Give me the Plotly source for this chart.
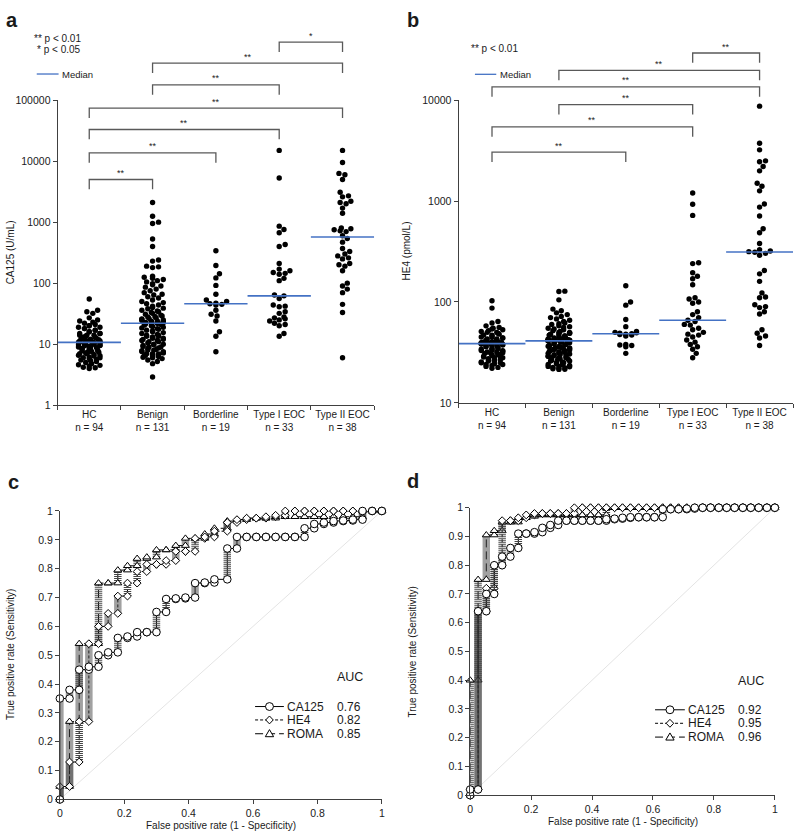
import math
import statistics
import plotly.graph_objects as go

# ---------------- data ----------------
CATEGORIES = ["HC", "Benign", "Borderline", "Type I EOC", "Type II EOC"]
GROUP_N = [94, 131, 19, 33, 38]

CA125_HC = [55, 36, 34, 32, 27, 25, 24, 23, 22, 21,
            20, 20, 19, 19, 18, 18, 17, 17, 16, 16,
            15, 15, 15, 14, 14, 14, 13.5, 13, 13, 12.5,
            12.5, 12, 12, 12, 11.8, 11.5, 11.5, 11.3, 11.2, 11,
            11, 11, 10.9, 10.8, 10.8, 10.8, 10.8,
            10.6, 10.5, 10.4, 10.2, 10, 10, 9.8, 9.6, 9.5, 9.4,
            9.2, 9, 9, 8.8, 8.6, 8.5, 8.4, 8.2, 8, 8,
            7.8, 7.6, 7.5, 7.4, 7.2, 7, 7, 6.8, 6.6, 6.5,
            6.4, 6.2, 6, 6, 5.8, 5.6, 5.5, 5.4, 5.2, 5,
            4.8, 4.6, 4.5, 4.4, 4.2, 4.1, 4.0]
CA125_BENIGN = [2100, 1250, 1000, 950, 530, 400, 240, 230, 190, 185,
                180, 130, 125, 120, 115, 110, 105, 98, 94, 90,
                86, 80, 75, 70, 66, 64, 60, 57, 53, 50,
                48, 46, 44, 42, 40, 39, 38, 36, 35, 34,
                33, 32, 31, 30, 29, 28.5, 28, 27, 26.5, 26,
                25.5, 25, 24.5, 24, 23.8, 23.5, 23.2, 23, 22.8, 22.6,
                22.5, 22.4, 22.3, 22.2, 22.1,
                22,
                21.5, 21, 20.5, 20, 19.5, 19, 18.5, 18, 17.5, 17,
                16.5, 16, 15.5, 15, 14.5, 14, 14, 13.5, 13.5, 13,
                13, 12.5, 12.5, 12, 12, 11.5, 11.5, 11, 11, 10.5,
                10, 10, 9.8, 9.5, 9.2, 9, 9, 8.7, 8.5, 8.2,
                8, 8, 7.8, 7.6, 7.5, 7.3, 7.2, 7, 7, 6.9,
                6.8, 6.7, 6.6, 6.5, 6.5, 6.4, 6.3, 6.2, 6.1, 6,
                5.8, 5.5, 5.2, 4.8, 2.9]
CA125_BORDERLINE = [340, 195, 143, 122, 92, 66, 53, 50, 47, 46,
                    45, 44, 36, 31, 29, 24, 16, 13.5, 7.5]
CA125_TYPE1 = [15000, 5300, 860, 760, 670, 430, 400, 210, 170, 160,
               150, 145, 140, 120, 110, 64, 62, 56, 44, 42,
               41, 34, 32, 28, 27, 26, 25, 24, 22, 21,
               20, 15, 13.5]
CA125_TYPE2 = [15000, 9500, 6300, 6000, 5000, 3100, 2700, 2600, 2200, 2100,
               2000, 1700, 1400, 800, 780, 750, 720, 700, 600,
               540, 470, 370, 330, 300, 280, 260, 250, 210, 200,
               190, 160, 100, 90, 80, 70, 45, 33, 6]

HE4_HC = [103, 87, 64, 62, 58, 56, 55, 54, 53, 52,
          51, 50, 50, 49, 48, 47, 47, 46, 45, 45,
          44, 44, 43, 43, 42, 42, 41.5, 41, 41, 40.5,
          40.5, 40, 40, 40, 39.8, 39.6, 39.5, 39.4, 39.3, 39.2,
          39.1, 39, 39, 39, 38.9, 38.9, 38.8,
          38.6, 38.4, 38.2, 38, 37.5, 37, 36.5, 36, 35.5, 35,
          34.5, 34, 34, 33.5, 33, 33, 32.5, 32, 32, 31.5,
          31, 31, 30.5, 30, 30, 29.5, 29, 29, 28.5, 28,
          28, 27.5, 27, 27, 26.5, 26, 26, 25.5, 25, 25,
          24.5, 24, 24, 23.5, 23, 22.5, 22]
HE4_BENIGN = [128, 127, 105, 85, 82, 78, 75, 72, 70, 68,
              66, 64, 62, 61, 60, 58, 57, 56, 55, 54,
              53, 52, 51, 50, 50, 49, 49, 48, 48, 47,
              47, 46, 46, 45.5, 45, 45, 44.5, 44, 44, 43.5,
              43.5, 43, 43, 42.8, 42.6, 42.5, 42.4, 42.2, 42, 42,
              41.9, 41.8, 41.7, 41.6, 41.5, 41.5, 41.4, 41.4, 41.3, 41.3,
              41.3, 41.2, 41.2, 41.2, 41.2,
              41.2,
              41, 40.8, 40.5, 40.2, 40, 39.5, 39, 38.5, 38, 37.5,
              37, 36.5, 36, 36, 35.5, 35, 35, 34.5, 34, 34,
              33.5, 33, 33, 32.5, 32, 32, 31.5, 31, 31, 30.5,
              30, 30, 29.5, 29, 29, 28.5, 28, 28, 27.5, 27,
              27, 26.5, 26, 26, 25.5, 25, 25, 24.5, 24, 24,
              23.5, 23, 23, 22.8, 22.5, 22.3, 22, 21.8, 21.6, 21.5,
              36, 34, 32, 30, 28]
HE4_BORDERLINE = [145, 100, 93, 67, 57, 51, 50, 49.5, 49, 48.5,
                  48, 47.5, 47, 46, 38, 37.5, 37, 36, 31]
HE4_TYPE1 = [1200, 930, 720, 245, 240, 195, 180, 170, 148, 110,
             107, 100, 97, 80, 75, 70, 66,
             64, 60, 59, 55, 53, 50, 48, 47, 45, 42, 40, 38, 36, 34, 31, 28]
HE4_TYPE2 = [8700, 3730, 3210, 2500, 2450, 2200, 1990, 1500, 1400, 1260,
             935, 870, 710, 532, 485, 380, 330, 320, 315,
             311, 303, 290, 205, 190, 160, 123, 112, 110, 94,
             90, 88, 80, 76, 53, 49, 46, 44, 37]

# significance comparisons (group i, group j, label)
SIG_A = [(3, 4, "*"), (1, 4, "**"), (1, 3, "**"), (0, 4, "**"),
         (0, 3, "**"), (0, 2, "**"), (0, 1, "**")]
SIG_B = [(3, 4, "**"), (1, 4, "**"), (0, 4, "**"), (1, 3, "**"),
         (0, 3, "**"), (0, 2, "**")]

CA125_TICKS = [1, 10, 100, 1000, 10000, 100000]
HE4_TICKS = [10, 100, 1000, 10000]

# ROC curves: false positive rate columns and true positive rate reached in each column
FPR_C = [0, 0.03, 0.06, 0.09, 0.12, 0.15, 0.18, 0.21, 0.24, 0.27,
         0.30, 0.33, 0.36, 0.39, 0.42, 0.45, 0.48, 0.52, 0.55, 0.58,
         0.61, 0.64, 0.67, 0.70, 0.73, 0.76, 0.79, 0.82, 0.85, 0.88,
         0.91, 0.94, 0.97, 1.0]
TPR_C_CA125 = [0.35, 0.38, 0.45, 0.46, 0.50, 0.51, 0.56, 0.565, 0.58, 0.58,
               0.65, 0.695, 0.697, 0.70, 0.75, 0.752, 0.763, 0.87, 0.91, 0.91,
               0.91, 0.91, 0.91, 0.91, 0.91, 0.94, 0.955, 0.96, 0.965, 0.967,
               0.97, 1.0, 1.0, 1.0]
TPR_C_HE4 = [0.045, 0.13, 0.27, 0.54, 0.60, 0.645, 0.705, 0.75, 0.79, 0.815,
             0.815, 0.828, 0.86, 0.86, 0.905, 0.91, 0.93, 0.96, 0.97, 0.975,
             0.975, 0.98, 0.985, 1.0, 1.0, 1.0, 1.0, 1.0, 1.0, 1.0,
             1.0, 1.0, 1.0, 1.0]
TPR_C_ROMA = [0.045, 0.27, 0.54, 0.54, 0.75, 0.75, 0.795, 0.81, 0.835, 0.84,
              0.865, 0.865, 0.88, 0.905, 0.905, 0.92, 0.94, 0.965, 0.97, 0.975,
              0.975, 0.975, 0.98, 0.98, 0.98, 0.98, 0.98, 0.98, 0.98, 0.98,
              0.98, 1.0, 1.0, 1.0]

FPR_D = [0, 0.026, 0.053, 0.079, 0.105, 0.132, 0.158, 0.184, 0.211, 0.237,
         0.263, 0.289, 0.316, 0.342, 0.368, 0.395, 0.421, 0.447, 0.474, 0.5,
         0.526, 0.553, 0.579, 0.605, 0.632, 0.658, 0.684, 0.711, 0.737, 0.763,
         0.789, 0.816, 0.842, 0.868, 0.895, 0.921, 0.947, 0.974, 1.0]
TPR_D_CA125 = [0.02, 0.64, 0.70, 0.80, 0.83, 0.86, 0.91, 0.91, 0.915, 0.93,
               0.94, 0.955, 0.955, 0.955, 0.955, 0.955, 0.955, 0.96, 0.962, 0.965,
               0.967, 0.967, 0.967, 0.967, 0.995, 0.995, 0.995, 0.997, 1.0, 1.0,
               1.0, 1.0, 1.0, 1.0, 1.0, 1.0, 1.0, 1.0, 1.0]
TPR_D_HE4 = [0.02, 0.64, 0.72, 0.80, 0.955, 0.955, 0.965, 0.975, 0.98, 0.98,
             0.98, 0.98, 0.98, 1.0, 1.0, 1.0, 1.0, 1.0, 1.0, 1.0,
             1.0, 1.0, 1.0, 1.0, 1.0, 1.0, 1.0, 1.0, 1.0, 1.0,
             1.0, 1.0, 1.0, 1.0, 1.0, 1.0, 1.0, 1.0, 1.0]
TPR_D_ROMA = [0.40, 0.75, 0.905, 0.92, 0.95, 0.95, 0.965, 0.97, 0.975, 0.975,
              0.975, 0.975, 0.975, 0.975, 0.975, 0.975, 0.975, 1.0, 1.0, 1.0,
              1.0, 1.0, 1.0, 1.0, 1.0, 1.0, 1.0, 1.0, 1.0, 1.0,
              1.0, 1.0, 1.0, 1.0, 1.0, 1.0, 1.0, 1.0, 1.0]

MARKERS = ["CA125", "HE4", "ROMA"]
AUC_C = ["0.76", "0.82", "0.85"]
AUC_D = ["0.92", "0.95", "0.96"]
CHANCE = [0, 1]

# ---------------- styling / layout helpers ----------------
W, H = 798, 839
FONT = "Liberation Sans, Arial, sans-serif"
AX = "#404040"
BLUE = "#4472C4"
BRK = "#595959"


def X(px):
    return px / W


def Y(py):
    return 1 - py / H


def swarm(vals, px_unit, px_dec, diam=5.2, maxoff=11, step=1.2):
    ys = [math.log10(v) * px_dec for v in vals]
    order = sorted(range(len(vals)), key=lambda i: ys[i])
    cands = [0.0]
    k = 1
    while k * step <= maxoff:
        cands += [k * step, -k * step]
        k += 1
    placed = []
    offs = [0.0] * len(vals)
    for i in order:
        best = None
        for c in cands:
            cnt = 0
            for (px, py) in placed:
                if (px - c) ** 2 + (py - ys[i]) ** 2 < diam ** 2:
                    cnt += 1
            key = (cnt, abs(c))
            if best is None or key < best[0]:
                best = (key, c)
        offs[i] = best[1]
        placed.append((best[1], ys[i]))
    return [o / px_unit for o in offs]


fig = go.Figure()
shapes = []
annotations = []


def ann(text, px, py, size=10, xanchor="left", yanchor="middle", bold=False, **kw):
    d = dict(text=("<b>%s</b>" % text) if bold else text, x=X(px), y=Y(py),
             xref="paper", yref="paper", xanchor=xanchor, yanchor=yanchor,
             showarrow=False, font=dict(family=FONT, size=size, color="#1a1a1a"))
    d.update(kw)
    annotations.append(d)


# ---------------- top panels (dot plots) ----------------
def dot_panel(groups, xa, ya, px_unit, px_dec):
    for i, vals in enumerate(groups):
        jit = swarm(vals, px_unit, px_dec)
        fig.add_trace(go.Scatter(
            x=[i + j for j in jit], y=vals, mode="markers", xaxis=xa, yaxis=ya,
            marker=dict(color="black", size=5.4, line=dict(width=0)),
            showlegend=False, hoverinfo="skip", cliponaxis=False))
    for i, vals in enumerate(groups):
        med = statistics.median(vals)
        fig.add_trace(go.Scatter(
            x=[i - 0.5, i + 0.5], y=[med, med], mode="lines", xaxis=xa, yaxis=ya,
            line=dict(color=BLUE, width=1.6), showlegend=False, hoverinfo="skip"))


dot_panel([CA125_HC, CA125_BENIGN, CA125_BORDERLINE, CA125_TYPE1, CA125_TYPE2],
          "x", "y", (374 - 55) / 5, 61.9)
dot_panel([HE4_HC, HE4_BENIGN, HE4_BORDERLINE, HE4_TYPE1, HE4_TYPE2],
          "x2", "y2", (796 - 459) / 5, 102.4)


def brackets(sig, levels, xref):
    for (i, j, lab), top in zip(sig, levels):
        leg = top + 10
        shapes.append(dict(
            type="path", xref=xref, yref="paper",
            path="M %g,%g L %g,%g L %g,%g L %g,%g" % (i, Y(leg), i, Y(top), j, Y(top), j, Y(leg)),
            line=dict(color=BRK, width=1.3)))
        annotations.append(dict(
            text=lab, x=(i + j) / 2, y=Y(top - 0.5), xref=xref, yref="paper",
            xanchor="center", yanchor="bottom", showarrow=False, borderpad=0,
            font=dict(family=FONT, size=9, color="#1a1a1a")))


brackets(SIG_A, [36.7, 58, 80, 103.7, 125.3, 149, 176], "x")
brackets(SIG_B, [47.7, 65.3, 82, 100, 122.7, 148.3], "x2")

# p-value notes and median keys
ann("** p < 0.01", 79.5, 32.7, xanchor="right", borderpad=0)
ann("* p < 0.05", 79.5, 44.2, xanchor="right", borderpad=0)
ann("** p < 0.01", 470, 42.7)
shapes.append(dict(type="line", xref="paper", yref="paper", x0=X(34), x1=X(56),
                   y0=Y(69), y1=Y(69), line=dict(color=BLUE, width=1.3)))
ann("Median", 57.5, 69, size=9.5)
shapes.append(dict(type="line", xref="paper", yref="paper", x0=X(475.5), x1=X(497),
                   y0=Y(69.3), y1=Y(69.3), line=dict(color=BLUE, width=1.3)))
ann("Median", 498.5, 69.3, size=9.5)

# ---------------- ROC panels ----------------
ROC_STYLE = {
    "CA125": dict(symbol="circle", size=7.6, dash="solid"),
    "HE4": dict(symbol="diamond", size=6, dash="3px,2px"),
    "ROMA": dict(symbol="triangle-up", size=7, dash="8px,4px"),
}


def roc_panel(fpr, curves, xa, ya):
    fig.add_trace(go.Scatter(x=CHANCE, y=CHANCE, mode="lines", xaxis=xa, yaxis=ya,
                             line=dict(color="#e4e4e4", width=1),
                             showlegend=False, hoverinfo="skip"))
    for name, tpr in curves:
        st = ROC_STYLE[name]
        xs, ys, sx, sy = [], [], [], []
        prev = 0.0
        for f, t in zip(fpr, tpr):
            xs += [f, f]
            ys += [prev, t]
            if t - prev > 0.012:
                sx += [f, f, None]
                sy += [prev, t, None]
            prev = t
        fig.add_trace(go.Scatter(
            x=xs, y=ys, mode="lines", xaxis=xa, yaxis=ya,
            line=dict(color="black", width=1, dash=st["dash"]),
            showlegend=False, hoverinfo="skip", cliponaxis=False))
        fig.add_trace(go.Scatter(
            x=sx, y=sy, mode="lines", xaxis=xa, yaxis=ya,
            line=dict(color="#454545", width=7.5, dash="1px,1px"),
            showlegend=False, hoverinfo="skip", cliponaxis=False))
        fig.add_trace(go.Scatter(
            x=xs, y=ys, mode="markers", xaxis=xa, yaxis=ya,
            marker=dict(symbol=st["symbol"], size=st["size"], color="white",
                        line=dict(color="black", width=1)),
            showlegend=False, hoverinfo="skip", cliponaxis=False))


roc_panel(FPR_C, [("ROMA", TPR_C_ROMA), ("HE4", TPR_C_HE4), ("CA125", TPR_C_CA125)], "x3", "y3")
roc_panel(FPR_D, [("ROMA", TPR_D_ROMA), ("HE4", TPR_D_HE4), ("CA125", TPR_D_CA125)], "x4", "y4")


def roc_key(x0, x1, xm, xname, xval, rows, auc_y, aucs):
    ann("AUC", xval - 0.5, auc_y, size=12.5, borderpad=0)
    for name, ry, auc in zip(MARKERS, rows, aucs):
        st = ROC_STYLE[name]
        shapes.append(dict(type="line", xref="paper", yref="paper", x0=X(x0), x1=X(x1),
                           y0=Y(ry), y1=Y(ry), line=dict(color="black", width=1, dash=st["dash"])))
        if name == "CA125":
            shapes.append(dict(type="circle", xref="paper", yref="paper",
                               x0=X(xm - 4), x1=X(xm + 4), y0=Y(ry + 4), y1=Y(ry - 4),
                               fillcolor="white", line=dict(color="black", width=1)))
        elif name == "HE4":
            p = "M %g,%g L %g,%g L %g,%g L %g,%g Z" % (
                X(xm), Y(ry - 4), X(xm + 3.8), Y(ry), X(xm), Y(ry + 4), X(xm - 3.8), Y(ry))
            shapes.append(dict(type="path", xref="paper", yref="paper", path=p,
                               fillcolor="white", line=dict(color="black", width=1)))
        else:
            p = "M %g,%g L %g,%g L %g,%g Z" % (
                X(xm), Y(ry - 4.2), X(xm + 4.2), Y(ry + 3), X(xm - 4.2), Y(ry + 3))
            shapes.append(dict(type="path", xref="paper", yref="paper", path=p,
                               fillcolor="white", line=dict(color="black", width=1)))
        ann(name, xname, ry, size=12, borderpad=0)
        ann(auc, xval, ry, size=12, borderpad=0)


roc_key(254, 283, 268.5, 285.5, 336, [710.7, 724.3, 738.3], 681, AUC_C)
roc_key(657, 687, 672, 689.5, 740, [714, 727.7, 741.7], 684.3, AUC_D)

# ---------------- axis titles and panel letters ----------------
ann("CA125 (U/mL)", 7, 250, textangle=-90, xanchor="center")
ann("HE4 (pmol/L)", 407, 248, textangle=-90, xanchor="center")
ann("True positive rate (Sensitivity)", 7.5, 658, textangle=-90, xanchor="center")
ann("True positive rate (Sensitivity)", 413, 655, textangle=-90, xanchor="center")
ann("False positive rate (1 - Specificity)", 219.5, 831.5, xanchor="center", borderpad=0)
ann("False positive rate (1 - Specificity)", 625, 827, xanchor="center", borderpad=0)
ann("a", 1, 14, size=20, bold=True)
ann("b", 405, 14, size=20, bold=True)
ann("c", 3, 483, size=20, bold=True)
ann("d", 405, 482, size=20, bold=True)

# ---------------- axes ----------------
base = dict(showline=True, linecolor=AX, linewidth=1, showgrid=False, zeroline=False,
            ticks="outside", tickcolor=AX, ticklen=4, tickwidth=1,
            tickfont=dict(family=FONT, size=10.5, color="#1a1a1a"))
cat_text = ["%s<br>n = %d" % (c, n) for c, n in zip(CATEGORIES, GROUP_N)]
bounds = [i - 0.5 for i in range(6)]


def cat_axis(dom, anchor):
    d = dict(base)
    d.update(domain=dom, anchor=anchor, range=[-0.5, 4.5], tickmode="array",
             tickvals=list(range(5)), ticktext=cat_text, ticks="",
             tickfont=dict(family=FONT, size=10, color="#1a1a1a"),
             minor=dict(tickmode="array", tickvals=bounds, ticks="outside",
                        ticklen=4, tickcolor=AX, tickwidth=1, showgrid=False))
    return d


def log_axis(dom, anchor, rng, tv):
    d = dict(base)
    d.update(domain=dom, anchor=anchor, type="log", range=rng, tickmode="array",
             tickvals=tv, ticktext=[str(t) for t in tv])
    return d


def lin_axis(dom, anchor, tv):
    d = dict(base)
    d.update(domain=dom, anchor=anchor, range=[0, 1], tickmode="array",
             tickvals=tv, ticktext=[("%g" % t) for t in tv])
    return d


fig.update_layout(
    width=W, height=H, margin=dict(l=0, r=0, t=0, b=0),
    paper_bgcolor="white", plot_bgcolor="white", showlegend=False,
    font=dict(family=FONT, size=10, color="#1a1a1a"),
    xaxis=cat_axis([X(55), X(374)], "y"),
    yaxis=log_axis([Y(405), Y(95.5)], "x", [0, 5], CA125_TICKS),
    xaxis2=cat_axis([X(459), X(796)], "y2"),
    yaxis2=log_axis([Y(402.7), Y(95.4)], "x2", [1, 4], HE4_TICKS),
    xaxis3=lin_axis([X(57.3), X(381.7)], "y3", [0, 0.2, 0.4, 0.6, 0.8, 1]),
    yaxis3=lin_axis([Y(805), Y(512.3)], "x3", [i / 10 for i in range(11)]),
    xaxis4=lin_axis([X(470.7), X(777.7)], "y4", [0, 0.2, 0.4, 0.6, 0.8, 1]),
    yaxis4=lin_axis([Y(800.7), Y(509)], "x4", [i / 10 for i in range(11)]),
    shapes=shapes, annotations=annotations,
)

fig.write_html("out.html", config={"displayModeBar": False},
               post_script="document.body.style.margin='0px';document.body.style.overflow='hidden';")
